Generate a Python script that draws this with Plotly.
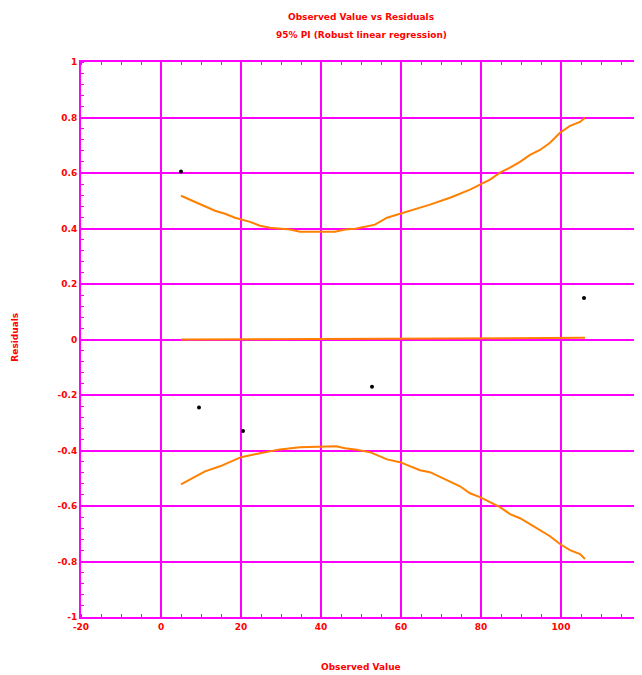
import plotly.graph_objects as go

# Observed points (observed value, residual)
obs_x = [5.0, 9.5, 20.5, 52.75, 105.75]
obs_y = [0.605, -0.245, -0.33, -0.17, 0.15]

# Upper prediction band
up_x = [5, 7.25, 11, 13.5, 16, 18.5, 22.25, 24.75, 27.25, 29.75, 32.25, 34.75, 39.75, 43.5,
        46, 48.5, 51, 53.5, 56.5, 59.75, 62.25, 67.25, 72.25, 77.25, 79.75, 82.25, 84.75,
        87.25, 89.75, 92.25, 94.75, 97.25, 99.75, 102.25, 104.75, 106]
up_y = [0.518, 0.504, 0.478, 0.464, 0.453, 0.439, 0.424, 0.410, 0.403, 0.399, 0.396, 0.388,
        0.388, 0.388, 0.396, 0.399, 0.406, 0.414, 0.439, 0.453, 0.464, 0.486, 0.511, 0.540,
        0.558, 0.576, 0.601, 0.619, 0.640, 0.665, 0.683, 0.709, 0.745, 0.770, 0.784, 0.799]

# Lower prediction band
lo_x = [5, 8.5, 11, 14.75, 17.25, 20, 24.75, 29.75, 34.75, 39.75, 43.75, 46, 48.5, 52.25,
        56.5, 59.75, 62.25, 64.75, 67.25, 69.75, 72.25, 74.75, 77.25, 79.75, 82.25, 84.75,
        87.25, 89.75, 92.25, 94.75, 97.25, 99.75, 102.25, 104.75, 106]
lo_y = [-0.522, -0.496, -0.475, -0.457, -0.442, -0.424, -0.410, -0.396, -0.388, -0.385,
        -0.385, -0.392, -0.396, -0.406, -0.432, -0.442, -0.457, -0.471, -0.478, -0.496,
        -0.514, -0.529, -0.554, -0.568, -0.586, -0.604, -0.629, -0.644, -0.665, -0.687,
        -0.709, -0.737, -0.759, -0.773, -0.791]

# Fit line
fit_x = [5, 106]
fit_y = [0.0, 0.006]

x_ticks = [-20, 0, 20, 40, 60, 80, 100, 120]
y_ticks = [-1, -0.8, -0.6, -0.4, -0.2, 0, 0.2, 0.4, 0.6, 0.8, 1]

MAG = "#FF00FF"
RED = "#FF0000"
ORANGE = "#FF8000"
FONT = dict(family="DejaVu Sans", size=9, color=RED, weight="bold")

fig = go.Figure()
for xs, ys in [(up_x, up_y), (lo_x, lo_y), (fit_x, fit_y)]:
    fig.add_trace(go.Scatter(x=xs, y=ys, mode="lines",
                             line=dict(color=ORANGE, width=2), showlegend=False))
fig.add_trace(go.Scatter(x=obs_x, y=obs_y, mode="markers",
                         marker=dict(color="black", size=4), showlegend=False))

axis_common = dict(
    showgrid=True, gridcolor=MAG, gridwidth=2,
    showline=True, linecolor=MAG, linewidth=2, mirror="ticks",
    zeroline=False, ticks="", tickfont=FONT,
)
fig.update_xaxes(range=[-20, 120], tickvals=x_ticks, ticktext=[str(v) for v in x_ticks],
                 minor=dict(dtick=5, tick0=0, ticks="inside", ticklen=3, tickcolor=MAG,
                            showgrid=False),
                 **axis_common)
fig.update_yaxes(range=[-1, 1], tickvals=y_ticks,
                 ticktext=["-1", "-0.8", "-0.6", "-0.4", "-0.2", "0", "0.2", "0.4", "0.6", "0.8", "1"],
                 minor=dict(dtick=0.04, tick0=0, ticks="inside", ticklen=3, tickcolor=MAG,
                            showgrid=False),
                 **axis_common)

fig.update_layout(
    width=634, height=667,
    margin=dict(l=73, r=1, t=54, b=58, autoexpand=False),
    plot_bgcolor="white", paper_bgcolor="white",
    font=FONT,
    annotations=[
        dict(text="Observed Value vs Residuals", xref="paper", yref="paper",
             x=0.5, y=1.081, showarrow=False, font=FONT, yanchor="middle"),
        dict(text="95% PI (Robust linear regression)", xref="paper", yref="paper",
             x=0.5, y=1.049, showarrow=False, font=FONT, yanchor="middle"),
        dict(text="Observed Value", xref="paper", yref="paper",
             x=0.5, y=-0.09, showarrow=False, font=FONT, yanchor="middle"),
        dict(text="Residuals", xref="paper", yref="paper",
             x=-0.118, y=0.505, showarrow=False, font=FONT, textangle=-90,
             xanchor="center", yanchor="middle"),
    ],
)

fig.write_html("out.html")
